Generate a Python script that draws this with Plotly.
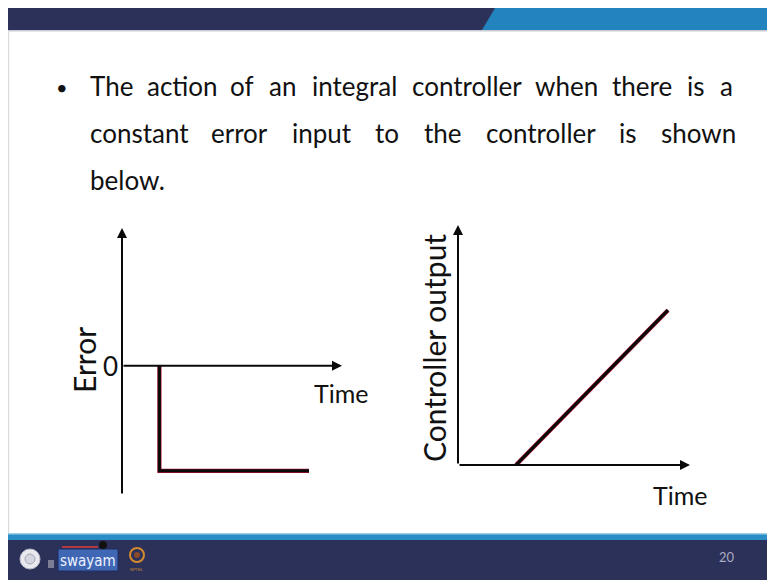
import plotly.graph_objects as go

W, H = 767, 580

# ---------------- data ----------------
# Bullet text, one list of words per line (lines 1-2 justified)
text_lines = [
    ["The", "action", "of", "an", "integral", "controller", "when", "there", "is", "a"],
    ["constant", "error", "input", "to", "the", "controller", "is", "shown"],
    ["below."],
]

# Error signal: a step from 0 down to a constant negative level
err_time = [1.7, 1.7, 8.5]
err_value = [0, -1, -1]

# Integral controller output: a ramp that starts when the error appears
out_time = [2.5, 9.05]
out_value = [0, 1.0]

# axis extents (data units)
left_x = [0, 10]
left_y = [-1.23, 1.31]
right_x = [0, 10]
right_y = [0, 1.55]

page_number = "20"

# ---------------- helpers ----------------
def px(x):
    return x / W


def py(y):
    return 1 - y / H


# Calibri-style advance widths (per 1000 em) used to lay out the justified words
ADV = dict(a=479, b=525, c=423, d=525, e=498, f=305, g=471, h=525, i=229, j=239,
           k=455, l=229, m=799, n=525, o=527, p=525, q=525, r=349, s=391, t=335,
           u=525, v=452, w=715, x=433, y=453, z=395)
ADV.update({"T": 487, ".": 252, " ": 226})
EM_PX = 26.8            # horizontal pixels per em of the body text
BODY_FONT = "Lato, Carlito, sans-serif"
BODY_SIZE = 26


def word_width(w):
    return sum(ADV.get(ch, 500) for ch in w) / 1000 * EM_PX


fig = go.Figure()

# ---------------- traces ----------------
for xs, ys, xa, ya in [(err_time, err_value, "x", "y"), (out_time, out_value, "x2", "y2")]:
    fig.add_trace(go.Scatter(x=xs, y=ys, xaxis=xa, yaxis=ya, mode="lines",
                             line=dict(color="#a8102c", width=4.2),
                             hoverinfo="skip", showlegend=False))
    fig.add_trace(go.Scatter(x=xs, y=ys, xaxis=xa, yaxis=ya, mode="lines",
                             line=dict(color="#0a0a0a", width=3.0),
                             hoverinfo="skip", showlegend=False))

ax_common = dict(visible=False, showgrid=False, zeroline=False, fixedrange=True)
fig.update_layout(
    width=W, height=H,
    margin=dict(l=0, r=0, t=0, b=0),
    paper_bgcolor="white", plot_bgcolor="rgba(0,0,0,0)",
    showlegend=False,
    xaxis=dict(domain=[px(122), px(342)], range=left_x, anchor="y", **ax_common),
    yaxis=dict(domain=[py(495), py(228)], range=left_y, anchor="x", **ax_common),
    xaxis2=dict(domain=[px(458), px(690)], range=right_x, anchor="y2", **ax_common),
    yaxis2=dict(domain=[py(465), py(225)], range=right_y, anchor="x2", **ax_common),
)

annotations = []


def arrow(xref, yref, x0, y0, x1, y1):
    annotations.append(dict(
        xref=xref, yref=yref, axref=xref, ayref=yref,
        x=x1, y=y1, ax=x0, ay=y0, text="", showarrow=True,
        arrowhead=2, arrowsize=1, arrowwidth=2, arrowcolor="#0a0a0a", standoff=0,
    ))


# axes drawn as arrows
arrow("x", "y", 0, left_y[0], 0, left_y[1])
arrow("x", "y", 0, 0, left_x[1], 0)
arrow("x2", "y2", 0, right_y[0], 0, right_y[1])
arrow("x2", "y2", 0, 0, right_x[1], 0)


def label(x, y, text, size, font=BODY_FONT, angle=0, color="#111111", xanchor="center"):
    annotations.append(dict(
        xref="paper", yref="paper", x=px(x), y=py(y), text=text, showarrow=False,
        textangle=angle, xanchor=xanchor, yanchor="middle",
        font=dict(family=font, size=size, color=color),
    ))


label(111, 366, "0", 26)
label(84, 360, "Error", 30, angle=-90)
label(341, 393, "Time", 25)
label(434, 348, "Controller output", 30, angle=-90)
label(680, 495, "Time", 25)

# bullet and justified body text
label(62, 87, "\u2022", 20)
LEFT, RIGHT = 88, 731
line_centers = [86, 133, 180]
for idx, (words, yc) in enumerate(zip(text_lines, line_centers)):
    widths = [word_width(w) for w in words]
    if idx < len(text_lines) - 1 and len(words) > 1:
        gap = (RIGHT - LEFT - sum(widths)) / (len(words) - 1)
    else:
        gap = ADV[" "] / 1000 * EM_PX
    xcur = LEFT
    for w, wd in zip(words, widths):
        label(xcur, yc, w, BODY_SIZE, xanchor="left")
        xcur += wd + gap

# ---------------- slide frame ----------------
NAVY = "#2c3159"
BLUE = "#2383bf"
shapes = []


def rect(x0, y0, x1, y1, fill, line_color=None, lw=0, layer="below"):
    shapes.append(dict(type="rect", xref="paper", yref="paper",
                       x0=px(x0), x1=px(x1), y0=py(y1), y1=py(y0),
                       fillcolor=fill, line=dict(color=line_color or fill, width=lw),
                       layer=layer))


def poly(points, fill):
    path = "M " + " L ".join(f"{px(a):.5f},{py(b):.5f}" for a, b in points) + " Z"
    shapes.append(dict(type="path", xref="paper", yref="paper", path=path,
                       fillcolor=fill, line=dict(width=0), layer="below"))


def circle(cx, cy, r, fill, line_color, lw=1):
    shapes.append(dict(type="circle", xref="paper", yref="paper",
                       x0=px(cx - r), x1=px(cx + r), y0=py(cy + r), y1=py(cy - r),
                       fillcolor=fill, line=dict(color=line_color, width=lw), layer="above"))


# header band
poly([(8, 8), (767, 8), (767, 30), (8, 30)], BLUE)
poly([(8, 8), (495, 8), (482, 30), (8, 30)], NAVY)
rect(8, 30, 767, 31.5, "#c9cbd3")
# left border of the slide
rect(8, 31, 9.2, 534, "#d9dae0")

# footer band
rect(8, 533, 767, 540, "#2b8dc6")
rect(8, 533, 767, 534.5, "#9fd0ea")
rect(8, 540, 767, 580, NAVY)

# footer logos
circle(30, 559, 10, "#e9e9ef", "#b9bac8", 1)
circle(30, 559, 5, "#d4d5de", "#a7a8b8", 1)
rect(48, 560, 54, 568, "#7c7e96", layer="above")
rect(58, 549, 118, 571, "#4067b4", "#1f2d66", 1, layer="above")
rect(62, 546, 98, 548, "#b33a45", layer="above")
circle(103, 545, 4, "#111111", "#111111", 0)
circle(137, 555, 7, "rgba(0,0,0,0)", "#d68a2e", 2)
circle(137, 555, 3, "#8a4a2a", "#8a4a2a", 0)


def footer_text(x, y, text, size, color, family="Liberation Sans"):
    annotations.append(dict(xref="paper", yref="paper", x=px(x), y=py(y), text=text,
                            showarrow=False, xanchor="center", yanchor="middle",
                            font=dict(family=family, size=size, color=color)))


footer_text(88, 561, "swayam", 15, "#eef2ff", family="DejaVu Sans Condensed, Lato, sans-serif")
footer_text(137, 569, "NPTEL", 4, "#d68a2e")
footer_text(727, 557, page_number, 13, "#a9abc2", family="Lato, sans-serif")

fig.update_layout(shapes=shapes, annotations=annotations)
fig.write_html("out.html")
